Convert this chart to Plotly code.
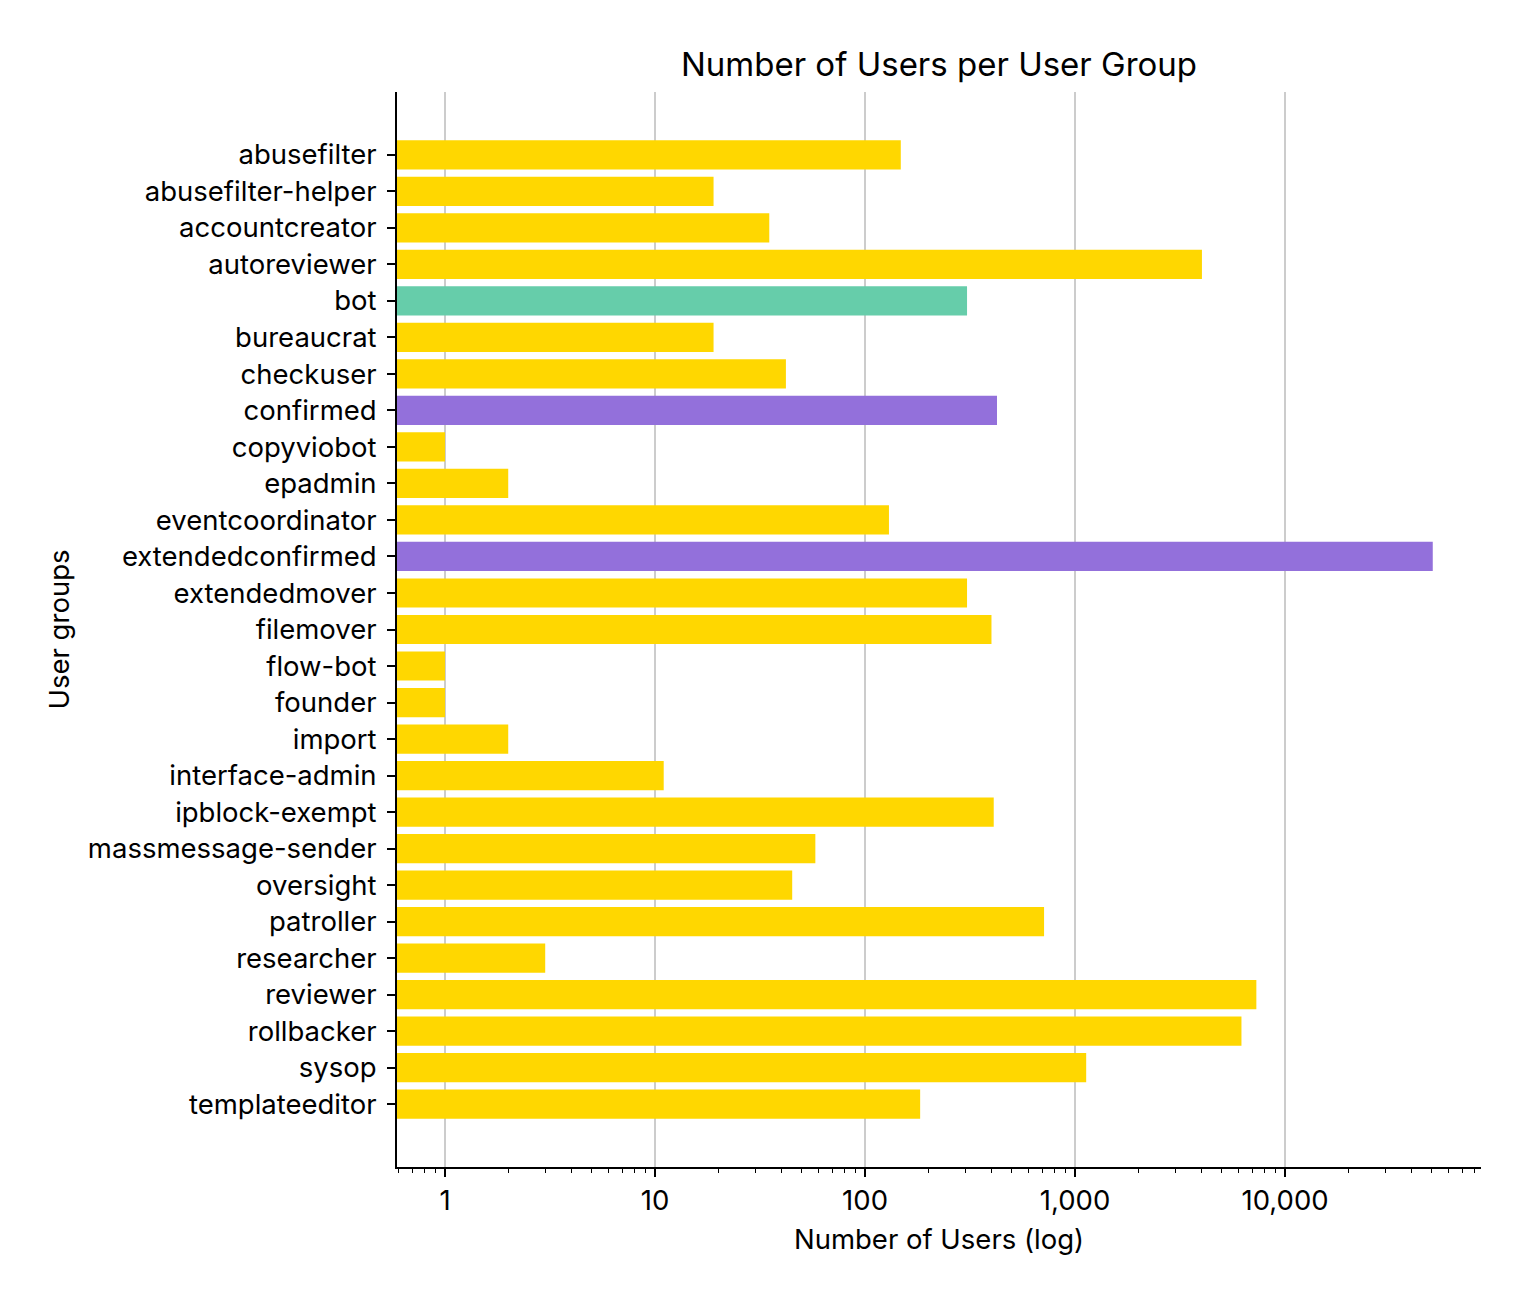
import plotly.graph_objects as go

groups = ["abusefilter", "abusefilter-helper", "accountcreator", "autoreviewer", "bot",
          "bureaucrat", "checkuser", "confirmed", "copyviobot", "epadmin",
          "eventcoordinator", "extendedconfirmed", "extendedmover", "filemover", "flow-bot",
          "founder", "import", "interface-admin", "ipblock-exempt", "massmessage-sender",
          "oversight", "patroller", "researcher", "reviewer", "rollbacker",
          "sysop", "templateeditor"]
users = [148, 19, 35, 4020, 306,
         19, 42, 425, 1, 2,
         130, 50500, 306, 400, 1,
         1, 2, 11, 410, 58,
         45, 712, 3, 7300, 6200,
         1130, 183]
highlight = {"bot": "#66CDAA", "confirmed": "#9370DB", "extendedconfirmed": "#9370DB"}
colors = [highlight.get(g, "#FFD700") for g in groups]

tick_vals = [1, 10, 100, 1000, 10000]
tick_text = ["1", "10", "100", "1,000", "10,000"]

# page body has an 8px offset
L, R, T, B = 389, 58, 84, 144

fig = go.Figure(go.Bar(
    y=groups, x=users, orientation="h", marker=dict(color=colors, line=dict(width=0)),
    width=0.8,
))

fig.update_layout(
    width=1531, height=1303,
    paper_bgcolor="white", plot_bgcolor="white",
    font=dict(family="Inter", size=27.5, color="black"),
    margin=dict(l=L, r=R, t=T, b=B),
    title=dict(text="Number of Users per User Group",
               x=(L + (1531 - L - R) / 2) / 1531, xanchor="center",
               y=1 - 56 / 1303, yanchor="middle", font=dict(size=33)),
    showlegend=False,
)
fig.update_xaxes(
    type="log", range=[-0.2286, 4.933],
    tickvals=tick_vals, ticktext=tick_text,
    showgrid=True, gridcolor="#cccccc", gridwidth=1.5,
    showline=True, linecolor="black", linewidth=1.8,
    ticks="outside", ticklen=8, tickwidth=1.8, tickcolor="black",
    minor=dict(ticks="outside", ticklen=4.5, tickwidth=1.4, tickcolor="black",
               dtick="D1", showgrid=False),
    zeroline=False,
    title=dict(text="Number of Users (log)", standoff=14, font=dict(size=27.5)),
)
fig.update_yaxes(
    categoryorder="array", categoryarray=groups,
    range=[27.72, -1.72],
    showgrid=False,
    showline=True, linecolor="black", linewidth=1.8,
    ticks="outside", ticklen=8, tickwidth=1.8, tickcolor="black",
    ticklabelstandoff=5,
    title=dict(text="User groups", standoff=10, font=dict(size=27.5)),
)

fig.write_html("out.html")
